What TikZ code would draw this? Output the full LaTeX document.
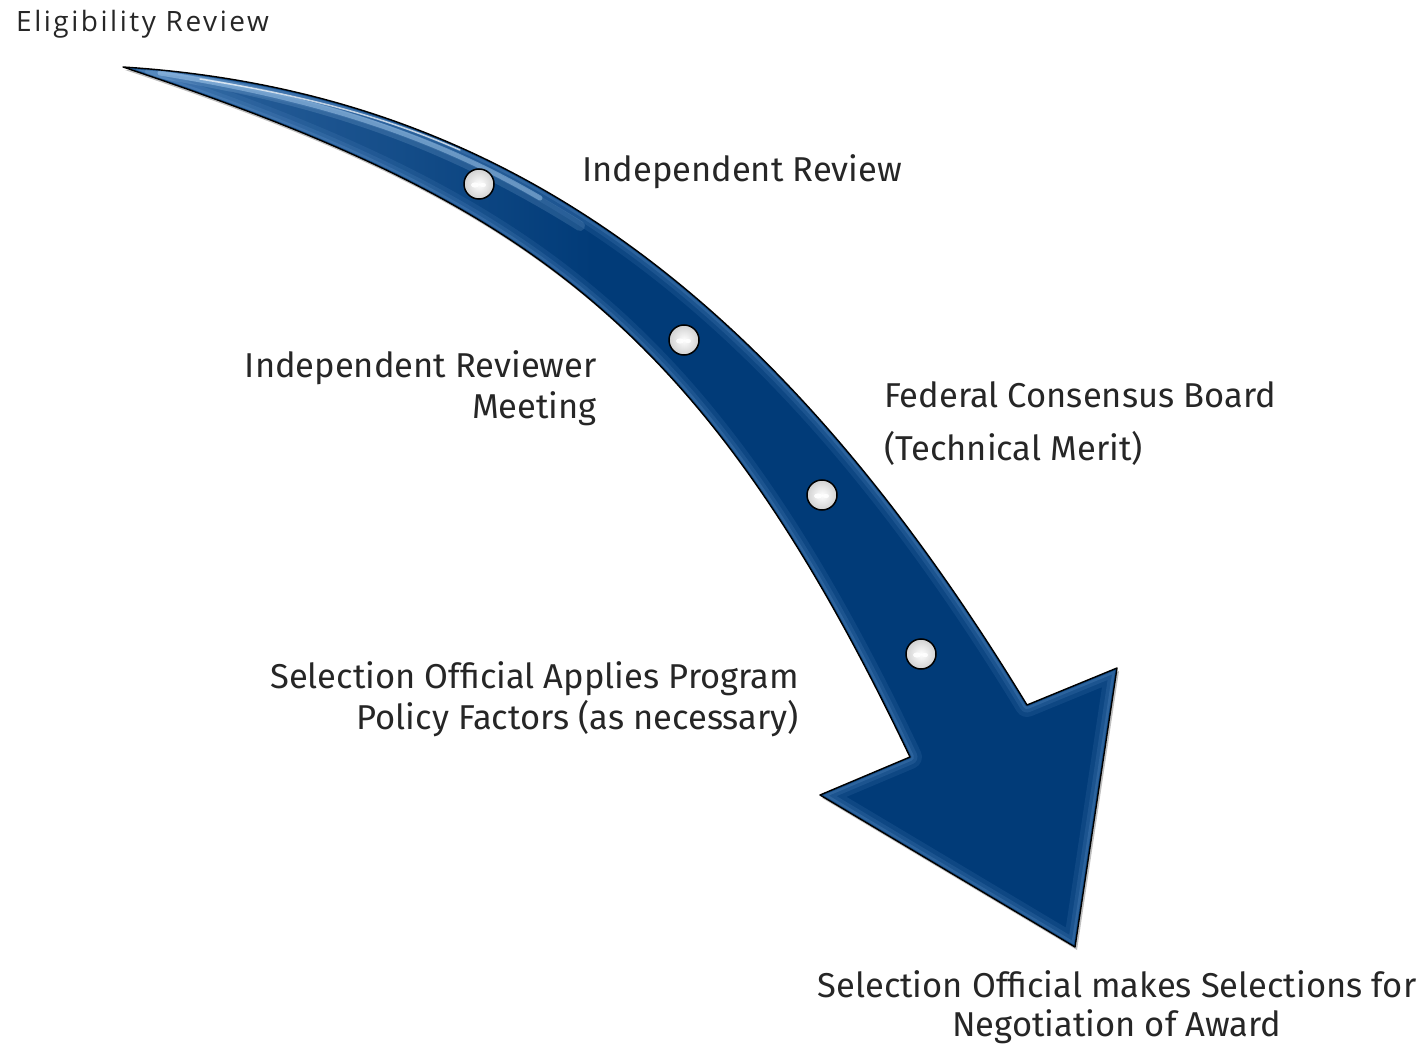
\documentclass[tikz,border=0pt]{standalone}
\usepackage{fontspec}
\setmainfont{Fira Sans}
\newfontfamily\eligfont[LetterSpace=9]{Open Sans}
\definecolor{arrowblue}{RGB}{1,59,120}
\definecolor{bevelblue}{RGB}{110,160,215}
\definecolor{sheen}{RGB}{190,225,255}
\definecolor{labelgray}{RGB}{38,38,38}
\def\arrowpath{(123,67) .. controls (520,92) and (790,316) .. (1027,705) -- (1117,668) -- (1075,947) -- (820,795) -- (910,757) .. controls (700,316) and (520,200) .. (123,67) -- cycle}
\begin{document}
\begin{tikzpicture}[x=1pt,y=-1pt,
  lbl/.style={inner sep=0pt, text=labelgray, font=\fontsize{34.5}{40}\selectfont},
  pearl/.style={circle, draw=black, line width=1.5pt, minimum size=30pt, inner sep=0pt, inner color=white, outer color=black!18}]
\useasboundingbox (0,0) rectangle (1427,1048);
% shadow
\begin{scope}[shift={(2,3)}]
\fill[black, opacity=0.25] \arrowpath;
\end{scope}
% body
\fill[arrowblue] \arrowpath;
\begin{scope}
\clip \arrowpath;
\shade[left color=bevelblue, right color=arrowblue, opacity=0.45] (100,40) rectangle (600,320);
\draw[bevelblue, line width=24, opacity=0.12, line join=round] \arrowpath;
\draw[bevelblue, line width=15, opacity=0.15, line join=round] \arrowpath;
\draw[bevelblue, line width=8, opacity=0.2, line join=round] \arrowpath;
\draw[arrowblue, line width=3, opacity=0.6, line join=round] \arrowpath;
% tail sheen
\draw[sheen, line width=10, opacity=0.15, line cap=round] (150,72) .. controls (300,96) and (430,132) .. (580,226);
\draw[sheen, line width=5, opacity=0.4, line cap=round] (160,73) .. controls (300,96) and (420,128) .. (540,198);
\draw[white, line width=1.5, opacity=0.7, line cap=round] (200,79) .. controls (300,95) and (380,115) .. (460,150);
\end{scope}
\draw[black, line width=1.4, line join=round] \arrowpath;
% pearls
\node[pearl] (d1) at (479,184) {};
\node[pearl] (d2) at (684,340) {};
\node[pearl] (d3) at (822,495) {};
\node[pearl] (d4) at (921,654) {};
\foreach \d in {d1,d2,d3,d4}{
  \fill[white, opacity=0.9] (\d) ++(-4,1) ellipse (4 and 2.6);
  \fill[white, opacity=0.9] (\d) ++(4,1) ellipse (3 and 2.2);
}
% labels
\node[lbl, font=\eligfont\fontsize{28}{30}\selectfont, anchor=base west] (el) at (16,32) {Eligibility Review};
\node[lbl, anchor=base west] (ir) at (582,182) {Independent Review};
\node[lbl, anchor=base east] (irm1) at (597,378) {Independent Reviewer};
\node[lbl, anchor=base east] (irm2) at (597,418) {Meeting};
\node[lbl, anchor=base west] (fcb1) at (884,408) {Federal Consensus Board};
\node[lbl, anchor=base west] (fcb2) at (884,460) {(Technical Merit)};
\node[lbl, anchor=base east] (so1) at (799,688) {Selection Official Applies Program};
\node[lbl, anchor=base east] (so2) at (799,729) {Policy Factors (as necessary)};
\node[lbl, anchor=base] (sm1) at (1117,997) {Selection Official makes Selections for};
\node[lbl, anchor=base] (sm2) at (1117,1036) {Negotiation of Award};
\end{tikzpicture}
\end{document}
